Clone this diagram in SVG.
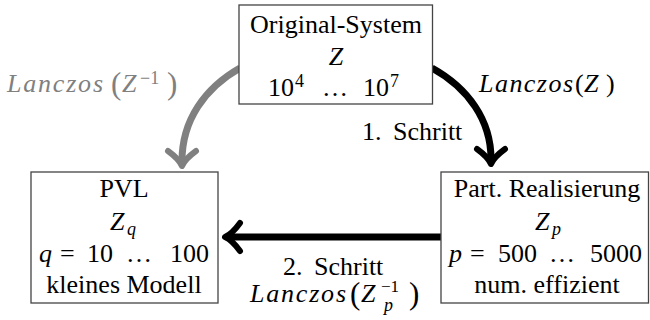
<svg xmlns="http://www.w3.org/2000/svg" width="650" height="320" viewBox="0 0 650 320">
<defs>
<marker id="ab" markerUnits="userSpaceOnUse" viewBox="-20 -20 30 40" refX="0" refY="0" markerWidth="30" markerHeight="40" orient="auto" overflow="visible">
<path d="M -10 -14 Q -2 -3 5 0 Q -2 3 -10 14" fill="none" stroke="#000" stroke-width="6" stroke-linecap="round" stroke-linejoin="round"/>
</marker>
<marker id="ag" markerUnits="userSpaceOnUse" viewBox="-20 -20 30 40" refX="0" refY="0" markerWidth="30" markerHeight="40" orient="auto" overflow="visible">
<path d="M -10 -14 Q -2 -3 5 0 Q -2 3 -10 14" fill="none" stroke="#808080" stroke-width="6" stroke-linecap="round" stroke-linejoin="round"/>
</marker>
</defs>
<rect width="650" height="320" fill="#fff"/>
<g id="connectors" fill="none" stroke-width="7">
<path stroke="#808080" d="M 240 68 C 205 88 182 120 182 161" marker-end="url(#ag)"/>
<path stroke="#000" d="M 432 68 C 468 88 491 120 491 159" marker-end="url(#ab)"/>
<path stroke="#000" d="M 441 237 L 230 237" marker-end="url(#ab)"/>
</g>
<g id="node-original">
<rect fill="#fff" stroke="#444" stroke-width="1.3" x="239" y="5" width="193.5" height="99"/>
<text font-family="Liberation Serif" font-size="26" text-anchor="middle" x="336" y="33">Original-System</text>
<text font-family="Liberation Serif" font-size="26" font-style="italic" text-anchor="middle" x="336" y="65">Z</text>
<text font-family="Liberation Serif" font-size="26" y="96"><tspan x="268">10</tspan><tspan font-size="18" x="295" y="87">4</tspan><tspan x="322" y="96">…</tspan><tspan x="363">10</tspan><tspan font-size="18" x="390" y="87">7</tspan></text>
</g>
<g id="node-pvl">
<rect fill="#fff" stroke="#444" stroke-width="1.3" x="31" y="172" width="187" height="131"/>
<text font-family="Liberation Serif" font-size="26" text-anchor="middle" x="124" y="197">PVL</text>
<text font-family="Liberation Serif" font-size="26" font-style="italic" y="230"><tspan x="110">Z</tspan><tspan font-size="18" x="127" y="235">q</tspan></text>
<text font-family="Liberation Serif" font-size="26" y="262"><tspan font-style="italic" x="39">q</tspan><tspan x="60">=</tspan><tspan x="87">10</tspan><tspan x="126">…</tspan><tspan x="170">100</tspan></text>
<text font-family="Liberation Serif" font-size="26" text-anchor="middle" x="124" y="293">kleines Modell</text>
</g>
<g id="node-part">
<rect fill="#fff" stroke="#444" stroke-width="1.3" x="441" y="172" width="207.5" height="131"/>
<text font-family="Liberation Serif" font-size="26" text-anchor="middle" x="547" y="197">Part. Realisierung</text>
<text font-family="Liberation Serif" font-size="26" font-style="italic" y="230"><tspan x="535">Z</tspan><tspan font-size="18" x="552" y="235">p</tspan></text>
<text font-family="Liberation Serif" font-size="26" y="262"><tspan font-style="italic" x="449">p</tspan><tspan x="470">=</tspan><tspan x="498">500</tspan><tspan x="549">…</tspan><tspan x="590">5000</tspan></text>
<text font-family="Liberation Serif" font-size="26" text-anchor="middle" x="547" y="293">num. effizient</text>
</g>
<g id="labels">
<text font-family="Liberation Serif" font-size="26" font-style="italic" fill="#808080" x="7" y="92" textLength="96" lengthAdjust="spacing">Lanczos</text>
<text font-family="Liberation Serif" font-size="26" fill="#808080" y="92"><tspan font-size="31" x="111" y="94">(</tspan><tspan font-style="italic" x="122" y="92">Z</tspan><tspan font-size="18" x="140" y="84">−1</tspan><tspan font-size="31" x="167" y="94">)</tspan></text>
<text font-family="Liberation Serif" font-size="26" font-style="italic" x="479" y="92" textLength="94" lengthAdjust="spacing">Lanczos</text>
<text font-family="Liberation Serif" font-size="26" y="92"><tspan x="575">(</tspan><tspan font-style="italic" x="584">Z</tspan><tspan x="606">)</tspan></text>
<text font-family="Liberation Serif" font-size="26" y="140"><tspan x="362">1.</tspan><tspan x="393">Schritt</tspan></text>
<text font-family="Liberation Serif" font-size="26" y="275"><tspan x="283">2.</tspan><tspan x="314">Schritt</tspan></text>
<text font-family="Liberation Serif" font-size="26" font-style="italic" x="250" y="302" textLength="96" lengthAdjust="spacing">Lanczos</text>
<text font-family="Liberation Serif" font-size="26" y="302"><tspan font-size="31" x="350" y="304">(</tspan><tspan font-style="italic" x="361" y="302">Z</tspan><tspan font-size="17" x="381" y="292">−1</tspan><tspan font-size="18" font-style="italic" x="384" y="311">p</tspan><tspan font-size="31" x="409" y="304">)</tspan></text>
</g>
</svg>
